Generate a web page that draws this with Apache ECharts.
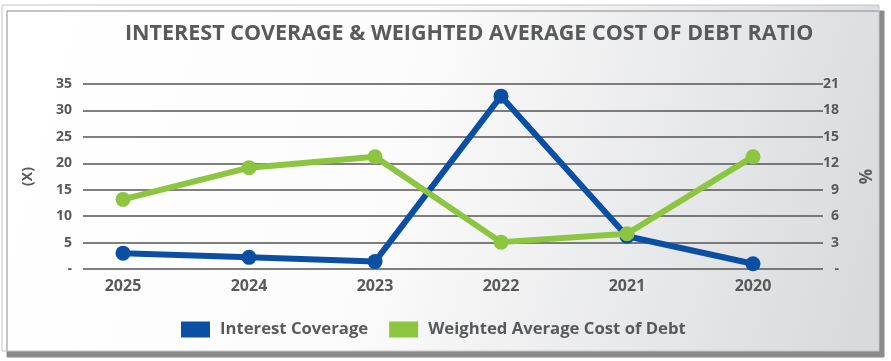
<!DOCTYPE html>
<html><head><meta charset="utf-8">
<script src="https://cdn.jsdelivr.net/npm/echarts@6/dist/echarts.min.js"></script>
<style>html,body{margin:0;padding:0;background:#fff}#c{width:891px;height:361px}</style>
</head><body><div id="c"></div>
<script>
const categories = ['2025','2024','2023','2022','2021','2020'];
const interestCoverage = [3.0, 2.2, 1.4, 32.7, 6.2, 1.0];
const waccDebt = [7.9, 11.5, 12.75, 3.05, 4.0, 12.75];
const leftTicks = {min:0, max:35, interval:5};
const rightTicks = {min:0, max:21, interval:3};
const titleText = 'INTEREST COVERAGE & WEIGHTED AVERAGE COST OF DEBT RATIO';
const seriesNames = ['Interest Coverage','Weighted Average Cost of Debt'];

const BLUE = '#0a4fa3', GREEN = '#8cc53f', TXT = '#58595b';
const FONT = '"Open Sans", sans-serif';
const chart = echarts.init(document.getElementById('c'), null, {renderer:'canvas'});
const zeroDash = v => v === 0 ? '-' : String(v);
chart.setOption({
  animation:false,
  graphic:[{
    type:'rect', z:-10, silent:true,
    shape:{x:2, y:5, width:877, height:346},
    style:{
      fill:{type:'linear', x:0, y:0, x2:1, y2:0.7, colorStops:[
        {offset:0, color:'#ffffff'},{offset:0.45, color:'#fcfcfc'},{offset:1, color:'#d9dadd'}]},
      stroke:'#c4c4c4', lineWidth:1,
      shadowColor:'#8a8a8a', shadowOffsetX:5, shadowOffsetY:6, shadowBlur:0
    }
  }],
  title:{text:titleText, left:125, top:23, padding:0,
    textStyle:{fontFamily:FONT, fontWeight:'bold', fontSize:21.5, color:TXT}},
  legend:{
    data:seriesNames, left:181, top:321, padding:0, itemWidth:29, itemHeight:16, itemGap:21,
    icon:'rect',
    textStyle:{fontFamily:FONT, fontWeight:'bold', fontSize:16.7, color:TXT, padding:[0,0,0,5]}
  },
  grid:[
    {left:83, right:68, top:84, bottom:92},
    {left:60, right:75, top:84, bottom:92}
  ],
  xAxis:[
    {type:'category', gridIndex:0, data:categories, show:false},
    {type:'category', gridIndex:1, data:categories, boundaryGap:true,
      axisLine:{show:false}, axisTick:{show:false},
      axisLabel:{fontFamily:FONT, fontWeight:'bold', fontSize:16, color:TXT, margin:9}}
  ],
  yAxis:[
    {type:'value', gridIndex:0, position:'left', min:leftTicks.min, max:leftTicks.max, interval:leftTicks.interval,
      name:'(X)', nameLocation:'middle', nameGap:48, nameRotate:90,
      nameTextStyle:{fontFamily:FONT, fontWeight:'bold', fontSize:14, color:TXT},
      axisLine:{show:false}, axisTick:{show:false},
      axisLabel:{formatter:zeroDash, fontFamily:FONT, fontWeight:'bold', fontSize:14, color:TXT, margin:11},
      splitLine:{lineStyle:{color:'#555555', width:1.5}}},
    {type:'value', gridIndex:0, position:'right', min:rightTicks.min, max:rightTicks.max, interval:rightTicks.interval,
      name:'%', nameLocation:'middle', nameGap:36, nameRotate:90,
      nameTextStyle:{fontFamily:FONT, fontWeight:'bold', fontSize:17, color:TXT},
      axisLine:{show:false}, axisTick:{show:false},
      axisLabel:{formatter:zeroDash, align:'right', fontFamily:FONT, fontWeight:'bold', fontSize:14, color:TXT, margin:16},
      splitLine:{show:false}},
    {type:'value', gridIndex:1, min:leftTicks.min, max:leftTicks.max, show:false},
    {type:'value', gridIndex:1, min:rightTicks.min, max:rightTicks.max, show:false}
  ],
  series:[
    {name:seriesNames[0], type:'line', xAxisIndex:1, yAxisIndex:2, data:interestCoverage,
      symbol:'circle', symbolSize:15, itemStyle:{color:BLUE}, lineStyle:{color:BLUE, width:6}, z:3},
    {name:seriesNames[1], type:'line', xAxisIndex:1, yAxisIndex:3, data:waccDebt,
      symbol:'circle', symbolSize:15, itemStyle:{color:GREEN}, lineStyle:{color:GREEN, width:6}, z:4}
  ]
});
</script></body></html>
